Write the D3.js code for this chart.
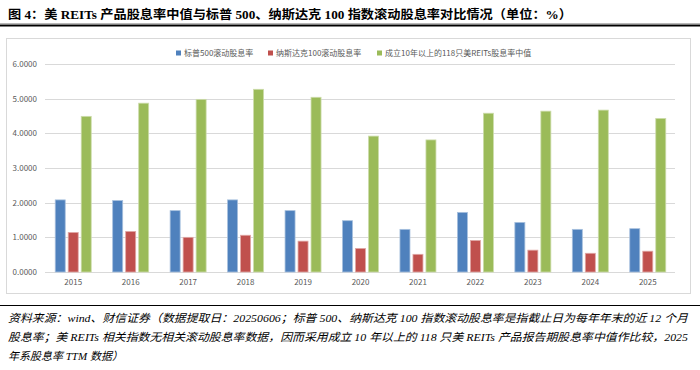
<!DOCTYPE html>
<html>
<head>
<meta charset="utf-8">
<script src="https://cdn.jsdelivr.net/npm/d3@7"></script>
<style>
  body { margin: 0; background: #fff; }
  svg { display: block; }
</style>
</head>
<body>
<svg width="700" height="370"></svg>
<script>
"use strict";

// data
const years = ["2015", "2016", "2017", "2018", "2019", "2020", "2021", "2022", "2023", "2024", "2025"];
const seriesNames = ["标普500滚动股息率", "纳斯达克100滚动股息率", "成立10年以上的118只美REITs股息率中值"];
const sp500 = [2.08, 2.06, 1.77, 2.08, 1.77, 1.48, 1.23, 1.72, 1.43, 1.23, 1.25];
const nasdaq100 = [1.14, 1.17, 1.00, 1.06, 0.89, 0.68, 0.51, 0.91, 0.63, 0.54, 0.60];
const reitsMedian = [4.49, 4.87, 4.98, 5.27, 5.04, 3.92, 3.81, 4.58, 4.64, 4.67, 4.43];
const yTicks = [0, 1, 2, 3, 4, 5, 6];

const titleText = "图 4：美 REITs 产品股息率中值与标普 500、纳斯达克 100 指数滚动股息率对比情况（单位：%）";
const sourceLines = [
    "资料来源：wind、财信证券（数据提取日：20250606；标普 500、纳斯达克 100 指数滚动股息率是指截止日为每年年末的近 12 个月",
    "股息率；美 REITs 相关指数无相关滚动股息率数据，因而采用成立 10 年以上的 118 只美 REITs 产品报告期股息率中值作比较，2025",
    "年系股息率 TTM 数据）"
];

const colors = ["#4F81BD", "#C0504D", "#9BBB59"];
const strokes = ["#a7c0de", "#e0a8a6", "#cddcab"];
const allSeries = [sp500, nasdaq100, reitsMedian];

const svg = d3.select("svg");
const cjk = "'Liberation Serif', 'Noto Sans CJK SC', serif";
const chartFont = "'Noto Sans CJK SC', 'Liberation Sans', sans-serif";

// title + rules
svg.append("text")
    .attr("x", 8).attr("y", 19)
    .attr("font-family", cjk)
    .attr("font-weight", "bold")
    .attr("font-size", 12.5)
    .attr("fill", "#000")
    .attr("textLength", 564)
    .attr("lengthAdjust", "spacingAndGlyphs")
    .text(titleText);

svg.append("line").attr("x1", 0).attr("x2", 700).attr("y1", 23.5).attr("y2", 23.5)
    .attr("stroke", "#888").attr("stroke-width", 0.6);
svg.append("line").attr("x1", 0).attr("x2", 700).attr("y1", 25.5).attr("y2", 25.5)
    .attr("stroke", "#000").attr("stroke-width", 2);

// chart frame
svg.append("rect")
    .attr("x", 6.5).attr("y", 38.5)
    .attr("width", 684).attr("height", 255)
    .attr("fill", "#fff")
    .attr("stroke", "#d9d9d9")
    .attr("stroke-width", 1);

const x0 = d3.scaleBand().domain(years).range([44.5, 676.5]);
const x1 = d3.scaleBand().domain(d3.range(3)).range([-18, 18]).paddingInner(0.23);
const y = d3.scaleLinear().domain([0, 6]).range([272, 64]);

// gridlines
svg.append("g")
    .selectAll("line")
    .data(yTicks)
    .join("line")
    .attr("x1", 45).attr("x2", 675)
    .attr("y1", d => Math.round(y(d)) + 0.5)
    .attr("y2", d => Math.round(y(d)) + 0.5)
    .attr("stroke", "#d9d9d9")
    .attr("stroke-width", 1);

// y axis labels
const yAxis = svg.append("g")
    .attr("transform", "translate(37,0)")
    .call(d3.axisLeft(y).tickValues(yTicks).tickSize(0).tickPadding(0).tickFormat(d3.format(".4f")));
yAxis.select(".domain").remove();
yAxis.selectAll("text")
    .attr("font-family", chartFont)
    .attr("font-size", 8)
    .attr("fill", "#595959");

// bars
const groups = svg.append("g")
    .selectAll("g")
    .data(years)
    .join("g")
    .attr("transform", d => `translate(${x0(d) + x0.bandwidth() / 2},0)`);

groups.selectAll("rect")
    .data((d, i) => allSeries.map((s, k) => ({k: k, v: s[i]})))
    .join("rect")
    .attr("x", d => x1(d.k))
    .attr("width", x1.bandwidth())
    .attr("y", d => y(d.v))
    .attr("height", d => y(0) - y(d.v))
    .attr("fill", d => colors[d.k])
    .attr("stroke", d => strokes[d.k])
    .attr("stroke-width", 0.8);

// x axis labels
const xAxis = svg.append("g")
    .attr("transform", "translate(0,279)")
    .call(d3.axisBottom(x0).tickSize(0).tickPadding(0));
xAxis.select(".domain").remove();
xAxis.selectAll("text")
    .attr("font-family", chartFont)
    .attr("font-size", 8)
    .attr("fill", "#595959");

// legend
const legendX = [176, 268, 377];
const legend = svg.append("g")
    .selectAll("g")
    .data(seriesNames)
    .join("g")
    .attr("transform", (d, i) => `translate(${legendX[i]},53)`);
legend.append("rect")
    .attr("x", 0).attr("y", -2.5)
    .attr("width", 5).attr("height", 5)
    .attr("fill", (d, i) => colors[i]);
legend.append("text")
    .attr("x", 8).attr("y", 0)
    .attr("dy", "0.35em")
    .attr("font-family", chartFont)
    .attr("font-size", 8)
    .attr("fill", "#595959")
    .text(d => d);

// bottom rule + source notes
svg.append("line").attr("x1", 0).attr("x2", 700).attr("y1", 305.5).attr("y2", 305.5)
    .attr("stroke", "#000").attr("stroke-width", 1);

const srcLengths = [680, 680, null];
svg.append("g")
    .selectAll("text")
    .data(sourceLines)
    .join("text")
    .attr("x", 8)
    .attr("y", (d, i) => 322 + i * 19)
    .attr("font-family", cjk)
    .attr("font-style", "italic")
    .attr("font-size", 11)
    .attr("fill", "#000")
    .each(function (d, i) {
        if (srcLengths[i]) {
            d3.select(this).attr("textLength", srcLengths[i]).attr("lengthAdjust", "spacingAndGlyphs");
        }
    })
    .text(d => d);
</script>
</body>
</html>
